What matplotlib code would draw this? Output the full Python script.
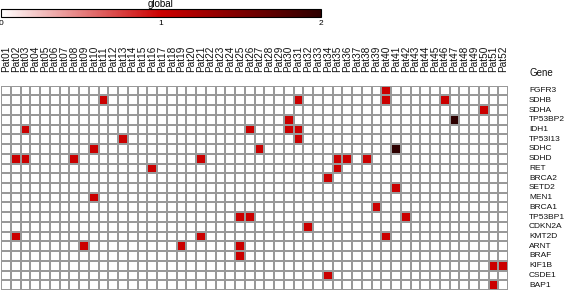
import numpy as np
import matplotlib
matplotlib.use("Agg")
import matplotlib.pyplot as plt
import matplotlib.transforms as mtransforms
from matplotlib.colors import LinearSegmentedColormap

plt.rcParams['font.family'] = ['Liberation Sans', 'DejaVu Sans']

patients = ["Pat%02d" % i for i in range(1, 53)]
genes = ["FGFR3", "SDHB", "SDHA", "TP53BP2", "IDH1", "TP53I13", "SDHC", "SDHD",
         "RET", "BRCA2", "SETD2", "MEN1", "BRCA1", "TP53BP1", "CDKN2A", "KMT2D",
         "ARNT", "BRAF", "KIF1B", "CSDE1", "BAP1"]

hit_gene = ["FGFR3",
            "SDHB", "SDHB", "SDHB", "SDHB",
            "SDHA",
            "TP53BP2", "TP53BP2",
            "IDH1", "IDH1", "IDH1", "IDH1",
            "TP53I13", "TP53I13",
            "SDHC", "SDHC", "SDHC",
            "SDHD", "SDHD", "SDHD", "SDHD", "SDHD", "SDHD", "SDHD",
            "RET", "RET",
            "BRCA2",
            "SETD2",
            "MEN1",
            "BRCA1",
            "TP53BP1", "TP53BP1", "TP53BP1",
            "CDKN2A",
            "KMT2D", "KMT2D", "KMT2D",
            "ARNT", "ARNT", "ARNT",
            "BRAF",
            "KIF1B", "KIF1B",
            "CSDE1",
            "BAP1"]
hit_patient = ["Pat40",
               "Pat11", "Pat31", "Pat40", "Pat46",
               "Pat50",
               "Pat30", "Pat47",
               "Pat03", "Pat26", "Pat30", "Pat31",
               "Pat13", "Pat31",
               "Pat10", "Pat27", "Pat41",
               "Pat02", "Pat03", "Pat08", "Pat21", "Pat35", "Pat36", "Pat38",
               "Pat16", "Pat35",
               "Pat34",
               "Pat41",
               "Pat10",
               "Pat39",
               "Pat25", "Pat26", "Pat42",
               "Pat32",
               "Pat02", "Pat21", "Pat40",
               "Pat09", "Pat19", "Pat25",
               "Pat25",
               "Pat51", "Pat52",
               "Pat34",
               "Pat51"]
hit_value = [1,
             1, 1, 1, 1,
             1,
             1, 2,
             1, 1, 1, 1,
             1, 1,
             1, 1, 2,
             1, 1, 1, 1, 1, 1, 1,
             1, 1,
             1,
             1,
             1,
             1,
             1, 1, 1,
             1,
             1, 1, 1,
             1, 1, 1,
             1,
             1, 1,
             1,
             1]

mat = np.zeros((len(genes), len(patients)))
for g, p, v in zip(hit_gene, hit_patient, hit_value):
    mat[genes.index(g), patients.index(p)] = v

cmap = LinearSegmentedColormap.from_list(
    "wr", [(0.0, "#FFFFFF"), (0.5, "#CC0000"), (1.0, "#2E0000")])

W, H = 567, 292
fig = plt.figure(figsize=(W / 100, H / 100), dpi=100)

x0, x1 = 1, 508
y0, y1 = 85.7, 290
ax = fig.add_axes([x0 / W, 1 - y1 / H, (x1 - x0) / W, (y1 - y0) / H])
mesh = ax.pcolormesh(mat, cmap=cmap, vmin=0, vmax=2,
                     edgecolors="#999999", linewidth=1.1)
ax.set_xlim(0, len(patients))
ax.set_ylim(len(genes), 0)
ax.set_xticks([])
ax.set_yticks([])
for s in ax.spines.values():
    s.set_visible(False)

# column labels
trc = mtransforms.blended_transform_factory(ax.transData, fig.transFigure)
for i, p in enumerate(patients):
    ax.text(i + 0.5, 1 - 72 / H, p, transform=trc,
            rotation=90, ha="center", va="bottom", fontsize=7.2, color="#111111")

# row labels
tr = mtransforms.blended_transform_factory(fig.transFigure, ax.transData)
for j, g in enumerate(genes):
    ax.text(529 / W, j + 0.5, g, transform=tr, ha="left", va="center",
            fontsize=6.0, color="#111111")
fig.text(529 / W, 1 - 73 / H, "Gene", ha="left", va="center", fontsize=7.0,
         color="#111111")

# colorbar
cax = fig.add_axes([1 / W, 1 - 17.3 / H, 320 / W, 8.6 / H])
cb = fig.colorbar(mesh, cax=cax, orientation="horizontal", ticks=[0, 1, 2])
cb.outline.set_linewidth(0.8)
cb.outline.set_edgecolor("#000000")
cax.tick_params(length=0, labelsize=6, pad=2)
cax.set_xticklabels(["0", "1", "2"])
cax.set_title("global", fontsize=7, pad=1.5)

fig.savefig("out.png", dpi=100)
